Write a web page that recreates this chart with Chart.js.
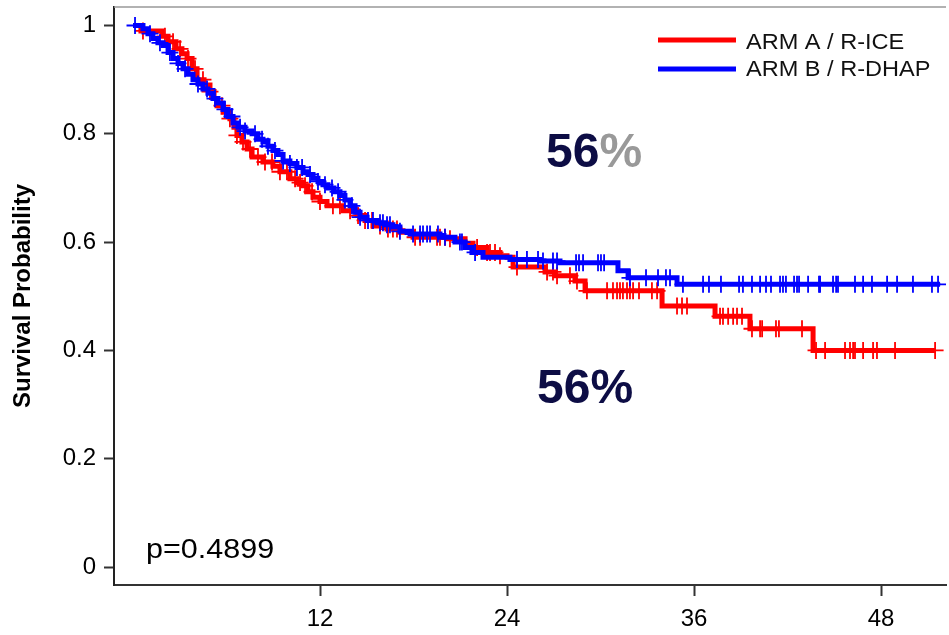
<!DOCTYPE html>
<html>
<head>
<meta charset="utf-8">
<script src="https://cdn.jsdelivr.net/npm/chart.js@4"></script>
<style>
html,body{margin:0;padding:0;background:#fff;}
#c{display:block;}
</style>
</head>
<body>
<canvas id="c" width="949" height="635"></canvas>
<script>
// ---- data (months, survival probability) ----
const armATimes = [0,0.51,1.86,2.25,2.76,3.14,3.47,3.79,4.11,4.56,4.94,5.20,5.39,5.78,6.22,6.48,6.67,6.99,7.32,7.64,8.34,8.98,9.43,10.07,10.52,10.91,11.23,11.55,12.00,12.45,13.48,14.37,14.89,15.40,16.30,17.13,17.97,20.15,21.31,21.82,22.72,23.55,24.00,24.39,26.44,27.08,28.36,29.01,33.95,37.35,39.59,43.64,51.47];
const armASurv  = [1.0,0.99,0.98,0.97,0.957,0.948,0.939,0.92,0.90,0.89,0.878,0.865,0.852,0.84,0.828,0.812,0.797,0.785,0.772,0.757,0.748,0.74,0.73,0.717,0.71,0.704,0.693,0.683,0.675,0.667,0.658,0.649,0.64,0.63,0.624,0.618,0.609,0.606,0.598,0.59,0.581,0.575,0.572,0.554,0.545,0.538,0.528,0.51,0.482,0.463,0.44,0.40,0.40];
const armBTimes = [0,0.64,0.96,1.28,1.60,1.93,2.25,2.57,2.89,3.21,3.53,3.85,4.17,4.49,4.81,5.13,5.45,5.78,6.10,6.42,6.74,7.19,7.64,8.02,8.34,8.66,8.98,9.30,9.63,10.07,10.52,10.91,11.23,11.55,11.87,12.19,12.51,12.90,13.28,13.60,13.93,14.25,14.57,15.02,15.66,16.17,16.68,17.13,17.78,19.70,20.66,21.31,21.75,22.46,24.19,26.12,27.40,31.12,31.77,34.91,51.79];
const armBSurv  = [1.0,0.994,0.985,0.976,0.968,0.963,0.95,0.939,0.93,0.92,0.91,0.90,0.892,0.883,0.875,0.865,0.857,0.845,0.832,0.82,0.812,0.805,0.80,0.79,0.785,0.777,0.769,0.762,0.75,0.745,0.738,0.73,0.725,0.718,0.712,0.706,0.70,0.693,0.686,0.678,0.667,0.655,0.646,0.64,0.636,0.632,0.628,0.62,0.615,0.609,0.60,0.59,0.581,0.572,0.568,0.565,0.562,0.547,0.534,0.522,0.522];
const armACensor = [0.64,2.05,2.57,3.02,3.53,3.98,4.49,4.94,5.71,6.22,6.67,7.06,7.51,8.02,8.47,8.92,9.43,9.88,10.40,10.72,11.04,11.49,12.00,12.83,13.28,13.93,14.44,14.89,15.34,15.85,16.36,16.68,16.94,18.10,18.42,19.51,19.70,20.02,20.34,22.08,22.72,22.91,23.23,23.55,24.64,26.57,26.95,27.21,28.04,28.49,29.13,30.42,30.80,31.06,31.25,31.44,31.70,31.89,32.09,32.47,33.30,33.63,34.91,35.23,35.55,37.67,37.86,38.19,38.51,38.76,39.08,39.72,40.24,40.37,41.26,41.45,42.93,43.83,44.41,45.69,46.01,46.21,46.33,46.85,47.49,47.74,48.90,51.47];
const armBCensor = [0.13,1.09,1.73,2.37,2.89,3.34,4.17,4.75,5.26,5.90,6.35,6.87,7.19,7.83,8.28,8.66,9.11,9.63,10.07,10.52,10.85,11.36,11.87,12.32,12.77,13.16,13.60,14.05,14.57,15.08,15.40,15.85,16.04,16.30,16.49,17.13,17.97,18.42,18.61,18.87,19.06,19.57,20.02,20.98,21.11,21.95,24.64,25.28,25.99,26.31,26.95,27.21,28.43,28.62,28.88,29.84,30.03,30.23,31.89,32.92,33.69,34.20,34.46,35.29,36.58,36.96,37.73,38.89,39.14,39.72,40.24,40.62,40.94,41.52,41.71,41.90,42.42,42.61,42.74,43.32,44.02,44.09,44.92,45.12,45.24,46.33,46.85,47.42,48.39,49.03,50.05,51.27,51.66];
const xTicks = [12,24,36,48];
const yTicks = [0,0.2,0.4,0.6,0.8,1];
const seriesNames = ['ARM A / R-ICE','ARM B / R-DHAP'];
const pValueText = 'p=0.4899';
const pctLabel = '56';

const RED = '#ff0000', BLUE = '#0000ff', NAVY = '#0d0d45';

function steps(times, surv){ return times.map((t,i)=>({x:t,y:surv[i]})); }
function survAt(times, surv, t){
  let v = surv[0];
  for (let i=0;i<times.length;i++){ if (times[i] <= t + 1e-9) v = surv[i]; else break; }
  return v;
}
function censorPts(ct, times, surv){ return ct.map(t=>({x:t,y:survAt(times,surv,t)})); }

const FONT = "'Liberation Sans', Arial, sans-serif";

function stretchText(ctx, text, x, y, sx){
  ctx.save(); ctx.translate(x,y); ctx.scale(sx,1); ctx.fillText(text,0,0); ctx.restore();
}

const decor = {
  id:'decor',
  afterDraw(chart){
    const ctx = chart.ctx, a = chart.chartArea;
    ctx.save();
    ctx.strokeStyle = '#999'; ctx.lineWidth = 1.5;
    ctx.beginPath(); ctx.moveTo(a.left, a.top); ctx.lineTo(a.right, a.top); ctx.stroke();
    ctx.fillStyle = '#000';
    ctx.font = "bold 24px " + FONT;
    ctx.textAlign = 'center'; ctx.textBaseline = 'middle';
    ctx.save(); ctx.translate(23, 296); ctx.rotate(-Math.PI/2); ctx.fillText('Survival Probability',0,0); ctx.restore();
    ctx.textAlign = 'left'; ctx.textBaseline = 'alphabetic';
    const leg = [[RED, 40, 49], [BLUE, 69, 76]];
    leg.forEach((l,i)=>{
      ctx.strokeStyle = l[0]; ctx.lineWidth = 5;
      ctx.beginPath(); ctx.moveTo(658,l[1]); ctx.lineTo(736,l[1]); ctx.stroke();
      ctx.fillStyle = '#111'; ctx.font = "22px " + FONT;
      stretchText(ctx, seriesNames[i], 746, l[2], 1.07);
    });
    ctx.fillStyle = '#000'; ctx.font = "27px " + FONT;
    stretchText(ctx, pValueText, 146, 558, 1.13);
    ctx.font = "bold 48px " + FONT;
    ctx.fillStyle = NAVY;
    ctx.fillText(pctLabel, 546, 167);
    const w = ctx.measureText(pctLabel).width;
    ctx.fillStyle = '#999999';
    ctx.fillText('%', 546 + w, 167);
    ctx.fillStyle = NAVY;
    ctx.fillText(pctLabel + '%', 537, 403);
    ctx.restore();
  }
};

new Chart(document.getElementById('c'), {
  type:'scatter',
  data:{
    datasets:[
      {data:steps(armATimes,armASurv), showLine:true, stepped:true, borderColor:RED, borderWidth:5, pointRadius:0, order:2},
      {data:steps(armBTimes,armBSurv), showLine:true, stepped:true, borderColor:BLUE, borderWidth:5, pointRadius:0, order:1},
      {data:censorPts(armACensor,armATimes,armASurv), pointStyle:'cross', pointRadius:8.5, pointBorderWidth:1.8, borderColor:RED, backgroundColor:RED, showLine:false, order:2},
      {data:censorPts(armBCensor,armBTimes,armBSurv), pointStyle:'cross', pointRadius:8.5, pointBorderWidth:1.8, borderColor:BLUE, backgroundColor:BLUE, showLine:false, order:1}
    ]
  },
  options:{
    responsive:false, animation:false, devicePixelRatio:1,
    layout:{autoPadding:false, padding:{top:7,right:3,left:0,bottom:0}},
    plugins:{legend:{display:false}, tooltip:{enabled:false}},
    scales:{
      x:{
        type:'linear', min:-1.219, max:52.17,
        afterBuildTicks(s){ s.ticks = xTicks.map(v=>({value:v})); },
        afterFit(s){ s.height = 50; s.paddingLeft = 0; s.paddingRight = 0; },
        grid:{drawOnChartArea:false, drawTicks:true, tickLength:11, tickColor:'#333', tickWidth:2},
        border:{display:true, color:'#333', width:2},
        ticks:{font:{family:FONT, size:24}, color:'#000', padding:9, maxRotation:0, autoSkip:false}
      },
      y:{
        type:'linear', min:-0.0332, max:1.0342,
        afterBuildTicks(s){ s.ticks = yTicks.map(v=>({value:v})); },
        afterFit(s){ s.width = 114; s.paddingTop = 0; s.paddingBottom = 0; },
        grid:{drawOnChartArea:false, drawTicks:true, tickLength:10, tickColor:'#333', tickWidth:2},
        border:{display:true, color:'#222', width:2},
        ticks:{font:{family:FONT, size:24}, color:'#000', padding:8,
          callback:(v)=> (v===0||v===1) ? String(v) : v.toFixed(1)}
      }
    }
  },
  plugins:[decor]
});
</script>
</body>
</html>
